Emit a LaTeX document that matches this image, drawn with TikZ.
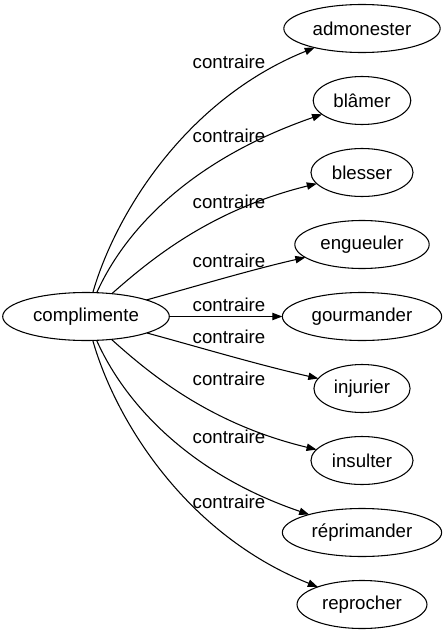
\documentclass[tikz,border=0pt]{standalone}
\usepackage{fontspec}
\setmainfont{Liberation Sans}
\usetikzlibrary{positioning,shapes.geometric,arrows.meta}

\begin{document}
\begin{tikzpicture}[x=0.75pt,y=-0.75pt,>={Triangle[length=7.5pt,width=5.5pt]},
        every node/.style={font=\fontsize{14pt}{16pt}\selectfont},
        word/.style={draw,ellipse,line width=0.8pt,outer sep=0pt,minimum height=36pt,inner xsep=4.5pt,inner ysep=2pt},
        rel/.style={->,line width=0.8pt}]
                \useasboundingbox (0,0) rectangle (446,635);
                \node[word] at (86,316.5) (comp) {complimente};
                \node[word] at (362,28.5) (adm) {admonester};
                \node[word,below=18pt of adm] (bla) {blâmer};
                \node[word,below=18pt of bla] (ble) {blesser};
                \node[word,below=18pt of ble] (eng) {engueuler};
                \node[word,below=18pt of eng] (gou) {gourmander};
                \node[word,below=18pt of gou] (inj) {injurier};
                \node[word,below=18pt of inj] (ins) {insulter};
                \node[word,below=18pt of ins] (rep) {réprimander};
                \node[word,below=18pt of rep] (repr) {reprocher};

                \node at (229,62) (l1) {contraire};
                \node at (229,136) (l2) {contraire};
                \node at (229,202) (l3) {contraire};
                \node at (229,261) (l4) {contraire};
                \node at (229,305) (l5) {contraire};
                \node at (229,337) (l6) {contraire};
                \node at (229,379) (l7) {contraire};
                \node at (229,437) (l8) {contraire};
                \node at (229,502) (l9) {contraire};

                \draw[rel] (comp) .. controls (115,215) and (185,100) .. (adm);
                \draw[rel] (comp) .. controls (125,230) and (190,160) .. (bla);
                \draw[rel] (comp) .. controls (150,260) and (210,210) .. (ble);
                \draw[rel] (comp) .. controls (190,288) and (250,270) .. (eng);
                \draw[rel] (comp) -- (gou);
                \draw[rel] (comp) .. controls (195,346) and (255,364) .. (inj);
                \draw[rel] (comp) .. controls (150,374) and (210,424) .. (ins);
                \draw[rel] (comp) .. controls (125,404) and (190,474) .. (rep);
                \draw[rel] (comp) .. controls (115,419) and (185,534) .. (repr);
            \end{tikzpicture}
\end{document}
